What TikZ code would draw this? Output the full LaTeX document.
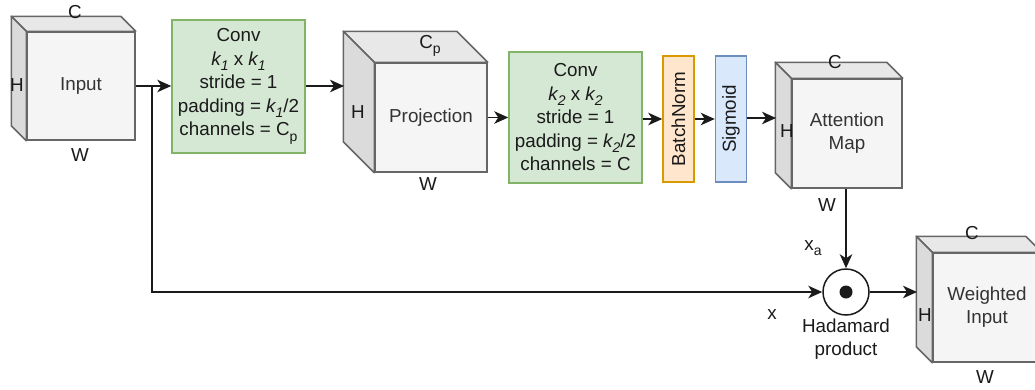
\documentclass[tikz,border=0pt]{standalone}
\usepackage{fontspec}
\setmainfont{Liberation Sans}
\usetikzlibrary{arrows.meta}

\definecolor{cubefront}{HTML}{F5F5F5}
\definecolor{cubetop}{HTML}{E8E8E8}
\definecolor{cubeleft}{HTML}{DBDBDB}
\definecolor{cubeline}{HTML}{666666}
\definecolor{cubetext}{HTML}{333333}
\definecolor{convfill}{HTML}{D5E8D4}
\definecolor{convline}{HTML}{82B366}
\definecolor{bnfill}{HTML}{FFE6CC}
\definecolor{bnline}{HTML}{D79B00}
\definecolor{sigfill}{HTML}{DAE8FC}
\definecolor{sigline}{HTML}{6C8EBF}
\definecolor{ink}{HTML}{1A1A1A}

% subscript a little larger than the default one
\newcommand\lowsub[1]{\raisebox{-0.28em}{\fontsize{14}{14}\selectfont #1}}

\tikzset{
  txt/.style={font=\fontsize{18.8}{23}\selectfont, text=ink},
  cubeface/.style={draw=cubeline, fill=cubefront, line width=1.5pt, inner sep=0pt,
    font=\fontsize{18.8}{23}\selectfont, text=cubetext, align=center},
  convbox/.style={draw=convline, fill=convfill, line width=1.5pt, inner sep=0pt,
    minimum width=133pt, font=\fontsize{18.8}{23.5}\selectfont, text=ink, align=center},
  thinbox/.style={line width=1.5pt, inner sep=0pt, minimum width=31pt, minimum height=126pt,
    font=\fontsize{18.8}{23}\selectfont, text=ink},
  dimlabel/.style={font=\fontsize{18.8}{22}\selectfont, text=ink, inner sep=0pt},
  link/.style={draw=ink, line width=1.5pt, -{Stealth[length=14pt,width=12.5pt,inset=4pt]}},
}

% top and left faces of a cube whose front face is the node #1, depth #2
\newcommand\cubeback[2]{%
  \filldraw[fill=cubetop, draw=cubeline, line width=1.5pt, line join=round]
    (#1.north west) -- ++(-#2,-#2) -- ([shift={(-#2,-#2)}]#1.north east)
    -- (#1.north east) -- cycle;
  \filldraw[fill=cubeleft, draw=cubeline, line width=1.5pt, line join=round]
    (#1.north west) -- ++(-#2,-#2) -- ([shift={(-#2,-#2)}]#1.south west)
    -- (#1.south west) -- cycle;
}

\begin{document}
\begin{tikzpicture}[x=1pt, y=-1pt]
\useasboundingbox (0,0) rectangle (1035,389);

% ---- Input tensor
\node[cubeface, minimum width=108pt, minimum height=108pt] (input) at (81,86) {Input};
\cubeback{input}{15}
\node[dimlabel] (inC) at (75,12) {C};
\node[dimlabel] (inH) at (17,85) {H};
\node[dimlabel] (inW) at (80,155) {W};

% ---- first convolution
\node[convbox, minimum height=133pt] (conv1) at (238.5,86.5)
  {Conv\\ \textit{k\lowsub{1}} x \textit{k\lowsub{1}}\\ stride = 1\\
   padding = \textit{k\lowsub{1}}/2\\ channels = C\lowsub{p}};

% ---- projection tensor
\node[cubeface, minimum width=112pt, minimum height=109pt] (proj) at (431,117.5) {Projection};
\cubeback{proj}{31}
\node[dimlabel] (prC) at (430,46) {C\lowsub{p}};
\node[dimlabel] (prH) at (358,112) {H};
\node[dimlabel] (prW) at (428,184) {W};
\coordinate (projin) at (344,86);

% ---- second convolution
\node[convbox, minimum height=131pt] (conv2) at (575.5,117.5)
  {Conv\\ \textit{k\lowsub{2}} x \textit{k\lowsub{2}}\\ stride = 1\\
   padding = \textit{k\lowsub{2}}/2\\ channels = C};

% ---- normalisation and activation
\node[thinbox, draw=bnline, fill=bnfill] (bn) at (678.5,119) {\rotatebox{90}{BatchNorm}};
\node[thinbox, draw=sigline, fill=sigfill] (sig) at (731,119) {\rotatebox{90}{Sigmoid}};

% ---- attention map
\node[cubeface, minimum width=110pt, minimum height=109pt] (att) at (847,133.5) {Attention\\Map};
\cubeback{att}{16}
\node[dimlabel] (atC) at (835,62) {C};
\node[dimlabel] (atH) at (787,131) {H};
\node[dimlabel] (atW) at (827,205) {W};
\coordinate (attin) at (776,118);

% ---- Hadamard product
\node[circle, draw=ink, fill=white, line width=1.5pt, minimum size=46pt, inner sep=0pt] (had) at (846,292) {};
\fill[ink] (had.center) circle (6.5pt);
\node[txt, align=center] (hadlbl) at (846,339) {Hadamard\\product};
\node[dimlabel] (xa) at (813,248) {x\lowsub{a}};
\node[dimlabel] (xl) at (772,315) {x};

% ---- weighted input
\node[cubeface, minimum width=108pt, minimum height=109pt] (wgt) at (987,307.5) {Weighted\\Input};
\cubeback{wgt}{16}
\node[dimlabel] (wgC) at (972,233) {C};
\node[dimlabel] (wgH) at (925,315) {H};
\node[dimlabel] (wgW) at (985,377) {W};
\coordinate (wgtin) at (917,292);

% ---- connectors
\coordinate (split) at (152,86);
\draw[link] (input.east |- split) -- (conv1.west |- split);
\draw[link] (split) -- (split |- had.west) -- (had.west);
\draw[link] (conv1.east |- projin) -- (projin);
\draw[link] (proj.east |- conv2.west) -- (conv2.west);
\draw[link] (conv2.east |- bn.west) -- (bn.west);
\draw[link] (bn.east) -- (sig.west);
\draw[link] (sig.east |- attin) -- (attin);
\draw[link] (att.south -| had.north) -- (had.north);
\draw[link] (had.east) -- (wgtin);
\end{tikzpicture}
\end{document}
